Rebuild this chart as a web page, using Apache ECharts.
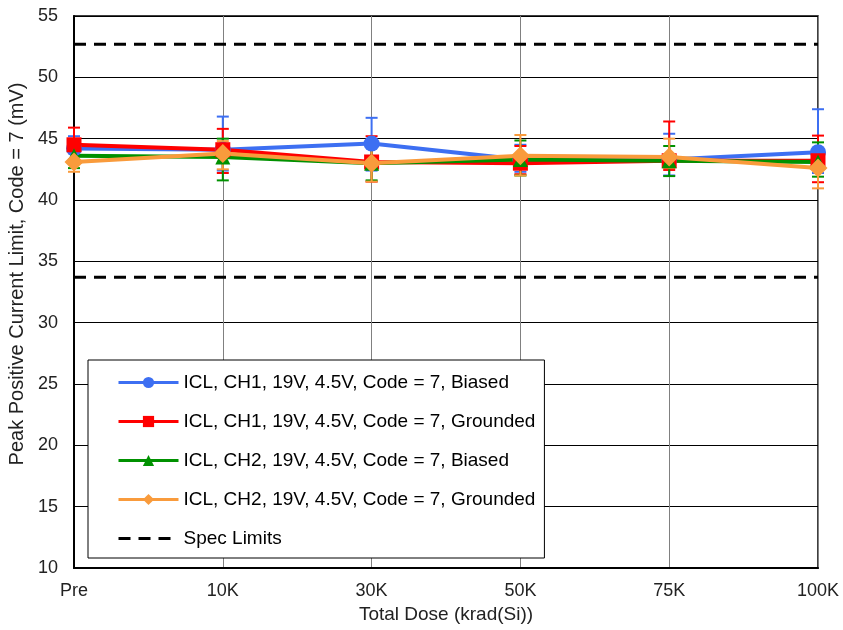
<!DOCTYPE html>
<html>
<head>
<meta charset="utf-8">
<script src="https://cdn.jsdelivr.net/npm/echarts@6/dist/echarts.min.js"></script>
<style>html,body{margin:0;padding:0;background:#fff;}#chart{width:843px;height:630px;}</style>
</head>
<body>
<div id="chart"></div>
<script>
const categories = ['Pre', '10K', '30K', '50K', '75K', '100K'];

const ch1BiasedName = 'ICL, CH1, 19V, 4.5V, Code = 7, Biased';
const ch1Biased = [44.2, 44.1, 44.6, 43.3, 43.3, 43.9];
const ch1BiasedHigh = [45.2, 46.8, 46.7, 44.5, 45.4, 47.4];
const ch1BiasedLow = [43.3, 42.4, 42.4, 42.3, 42.0, 42.2];

const ch1GroundedName = 'ICL, CH1, 19V, 4.5V, Code = 7, Grounded';
const ch1Grounded = [44.5, 44.1, 43.1, 43.0, 43.2, 43.2];
const ch1GroundedHigh = [45.9, 45.8, 45.2, 44.4, 46.4, 45.25];
const ch1GroundedLow = [43.2, 42.2, 41.5, 42.1, 42.45, 41.45];

const ch2BiasedName = 'ICL, CH2, 19V, 4.5V, Code = 7, Biased';
const ch2Biased = [43.6, 43.5, 43.0, 43.3, 43.2, 43.1];
const ch2BiasedHigh = [44.6, 45.0, 44.6, 44.85, 44.4, 44.7];
const ch2BiasedLow = [42.6, 41.6, 41.6, 42.0, 41.95, 41.9];

const ch2GroundedName = 'ICL, CH2, 19V, 4.5V, Code = 7, Grounded';
const ch2Grounded = [43.1, 43.8, 43.0, 43.6, 43.5, 42.6];
const ch2GroundedHigh = [44.0, 44.8, 44.7, 45.3, 45.0, 44.2];
const ch2GroundedLow = [42.3, 42.5, 41.5, 42.0, 42.6, 40.95];

const specName = 'Spec Limits';
const specUpper = [52.7, 52.7, 52.7, 52.7, 52.7, 52.7];
const specLower = [33.7, 33.7, 33.7, 33.7, 33.7, 33.7];

const yTicks = { min: 10, max: 55, interval: 5 };

const FONT = '"Liberation Sans", Arial, sans-serif';
const colors = { blue: '#3D6FF2', red: '#FF0000', green: '#009100', orange: '#F99B3C' };

function errorSeries(name, color, low, high) {
  const data = categories.map((c, i) => [i, low[i], high[i]]);
  return {
    type: 'custom',
    name: name + ' err',
    z: 1,
    silent: true,
    data: data,
    encode: { x: 0, y: [1, 2] },
    renderItem: function (params, api) {
      const x = api.value(0);
      const lo = api.coord([x, api.value(1)]);
      const hi = api.coord([x, api.value(2)]);
      const w = 6;
      const style = { stroke: color, lineWidth: 2 };
      return {
        type: 'group',
        children: [
          { type: 'line', shape: { x1: lo[0], y1: lo[1], x2: hi[0], y2: hi[1] }, style: style },
          { type: 'line', shape: { x1: lo[0] - w, y1: lo[1], x2: lo[0] + w, y2: lo[1] }, style: style },
          { type: 'line', shape: { x1: hi[0] - w, y1: hi[1], x2: hi[0] + w, y2: hi[1] }, style: style }
        ]
      };
    }
  };
}

function lineSeries(name, color, data, symbol, size) {
  return {
    type: 'line',
    name: name,
    data: data,
    z: 3,
    symbol: symbol,
    symbolSize: size,
    showAllSymbol: true,
    lineStyle: { color: color, width: 4 },
    itemStyle: { color: color },
    emphasis: { disabled: true }
  };
}

const specStyle = { color: '#000', width: 3, type: [12, 8] };

const chart = echarts.init(document.getElementById('chart'), null, { renderer: 'canvas' });
chart.setOption({
  animation: false,
  backgroundColor: '#fff',
  textStyle: { fontFamily: FONT },
  grid: { left: 74, right: 25, top: 16, bottom: 62, containLabel: false, outerBoundsMode: 'none' },
  legend: {
    orient: 'vertical',
    left: 88,
    top: 360,
    data: [ch1BiasedName, ch1GroundedName, ch2BiasedName, ch2GroundedName,
      { name: specName, itemStyle: { color: 'rgba(0,0,0,0)', borderWidth: 0 } }],
    backgroundColor: '#fff',
    borderColor: '#000',
    borderWidth: 1,
    padding: [13, 9, 10, 29],
    itemWidth: 60,
    itemHeight: 14,
    itemGap: 20,
    lineStyle: { width: 3 },
    textStyle: { fontSize: 19, color: '#000', fontFamily: FONT },
    selectedMode: false
  },
  xAxis: {
    type: 'category',
    data: categories,
    boundaryGap: false,
    name: 'Total Dose (krad(Si))',
    nameLocation: 'middle',
    nameGap: 37,
    nameTextStyle: { fontSize: 19, color: '#222', fontFamily: FONT },
    axisLine: { lineStyle: { color: '#000', width: 2 } },
    axisTick: { show: false },
    axisLabel: { fontSize: 18, color: '#222', margin: 14, fontFamily: FONT },
    splitLine: { show: true, lineStyle: { color: '#808080', width: 1 } }
  },
  yAxis: {
    type: 'value',
    min: yTicks.min,
    max: yTicks.max,
    interval: yTicks.interval,
    name: 'Peak Positive Current Limit, Code = 7 (mV)',
    nameLocation: 'middle',
    nameGap: 42,
    nameTextStyle: { fontSize: 20, color: '#222', fontFamily: FONT, padding: [0, 0, 0, 36] },
    axisLine: { show: true, lineStyle: { color: '#000', width: 2 } },
    axisTick: { show: false },
    axisLabel: { fontSize: 18, color: '#222', margin: 16, fontFamily: FONT },
    splitLine: { show: true, lineStyle: { color: '#000', width: 1 } }
  },
  series: [
    errorSeries(ch1BiasedName, colors.blue, ch1BiasedLow, ch1BiasedHigh),
    errorSeries(ch1GroundedName, colors.red, ch1GroundedLow, ch1GroundedHigh),
    errorSeries(ch2BiasedName, colors.green, ch2BiasedLow, ch2BiasedHigh),
    errorSeries(ch2GroundedName, colors.orange, ch2GroundedLow, ch2GroundedHigh),
    {
      type: 'line', name: specName, data: specUpper, symbol: 'none', z: 2,
      lineStyle: specStyle, itemStyle: { color: '#000' }, emphasis: { disabled: true }
    },
    {
      type: 'line', name: specName, data: specLower, symbol: 'none', z: 2,
      lineStyle: specStyle, itemStyle: { color: '#000' }, emphasis: { disabled: true }
    },
    lineSeries(ch1BiasedName, colors.blue, ch1Biased, 'circle', 16),
    lineSeries(ch1GroundedName, colors.red, ch1Grounded, 'rect', 15),
    lineSeries(ch2BiasedName, colors.green, ch2Biased, 'triangle', 15),
    lineSeries(ch2GroundedName, colors.orange, ch2Grounded, 'diamond', 19)
  ],
  graphic: [
    {
      type: 'rect', z: 0, silent: true,
      shape: { x: 74, y: 16, width: 744, height: 552 },
      style: { fill: 'none', stroke: '#000', lineWidth: 1.5 }
    }
  ]
});
</script>
</body>
</html>
